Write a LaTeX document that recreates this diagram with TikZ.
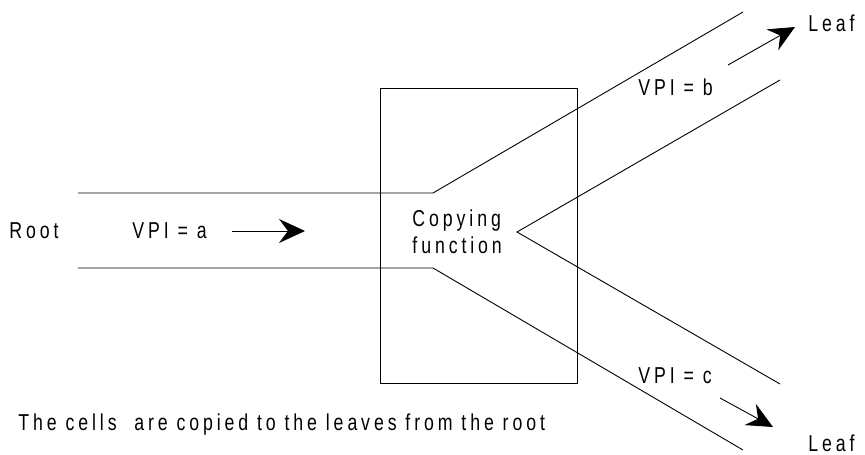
\documentclass[tikz,border=0pt]{standalone}
\usepackage{fontspec}
\setmainfont{Liberation Sans}[FakeStretch=0.77,LetterSpace=17]
\usetikzlibrary{arrows.meta}

\begin{document}
\begin{tikzpicture}[x=1pt,y=-1pt,line width=0.9pt,
  lbl/.style={font=\fontsize{23}{27}\selectfont,inner sep=0pt,anchor=west},
  bigarrow/.style={-{Stealth[length=26pt,width=24pt,inset=9pt]}}]
\useasboundingbox (0,0) rectangle (865,455);

% copying function box
\node (box) [draw,minimum width=197pt,minimum height=295pt,inner sep=0pt,anchor=north west] at (380,88) {};
\node (copy) [lbl,align=left] at (412,232) {Copying\\function};

% root channel and its two branches
\coordinate (rt) at (78,193);
\coordinate (rb) at (78,268);
\coordinate (kt) at (433,193);
\coordinate (kb) at (433,268);
\coordinate (ut) at (743,12);
\coordinate (lb) at (743,450);
\coordinate (v)  at (517,232);
\coordinate (ui) at (780,80);
\coordinate (li) at (780,384);
\draw (rt) -- (kt) -- (ut);
\draw (rb) -- (kb) -- (lb);
\draw (ui) -- (v) -- (li);

% labels
\node (root) [lbl] at (9,231) {Root};
\node (vpia) [lbl] at (132,231) {VPI = a};
\node (vpib) [lbl] at (638,87) {VPI = b};
\node (vpic) [lbl] at (638,376) {VPI = c};
\node (leafb) [lbl] at (808,23) {Leaf};
\node (leafc) [lbl] at (808,443) {Leaf};
\node (note) [lbl] at (18,425) {The cells\ \ are copied to the leaves from the root};

% direction arrows
\coordinate (a1) at (232,231);
\coordinate (a2) at (305,231);
\coordinate (b1) at (728,65);
\coordinate (b2) at (795,27);
\coordinate (c1) at (720,398);
\coordinate (c2) at (773,427);
\draw[bigarrow] (a1) -- (a2);
\draw[bigarrow] (b1) -- (b2);
\draw[bigarrow] (c1) -- (c2);
\end{tikzpicture}
\end{document}
